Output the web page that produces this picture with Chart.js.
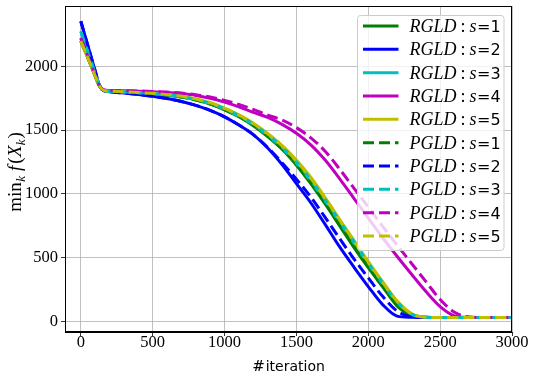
<!DOCTYPE html>
<html><head><meta charset="utf-8">
<script src="https://cdn.jsdelivr.net/npm/chart.js@4/dist/chart.umd.min.js"></script>
<style>html,body{margin:0;padding:0;background:#fff;overflow:hidden}</style>
</head><body>
<canvas id="c" width="534" height="379"></canvas>
<script>
// ---------- data ----------
const iterations = [0,50,100,130,160,200,300,400,500,600,700,800,900,1000,1100,1200,1300,1400,1500,1600,1700,1800,1900,2000,2100,2200,2300,2400,2500,2600,2700,2800,2900,3000];
const rgld_s1 = [2200,2065,1925,1845,1812,1806,1800,1793,1786,1775,1760,1737,1705,1660,1605,1535,1450,1350,1225,1080,920,750,580,420,270,120,45,30,28,28,28,28,28,28];
const rgld_s2 = [2355,2160,1965,1850,1810,1802,1792,1780,1766,1748,1725,1695,1655,1605,1540,1465,1360,1230,1080,930,760,585,425,272,130,40,30,28,28,28,28,28,28,28];
const rgld_s3 = [2277,2110,1945,1850,1813,1806,1800,1794,1787,1777,1762,1740,1708,1665,1610,1542,1458,1360,1240,1100,945,780,615,450,295,150,55,30,28,28,28,28,28,28];
const rgld_s4 = [2225,2080,1930,1850,1815,1811,1809,1806,1802,1796,1787,1773,1750,1720,1683,1640,1600,1545,1475,1385,1265,1120,965,810,655,510,370,235,115,42,30,28,28,28];
const rgld_s5 = [2200,2065,1925,1845,1812,1806,1801,1795,1789,1779,1766,1745,1715,1672,1620,1555,1475,1380,1266,1130,970,800,635,468,310,160,60,30,28,28,28,28,28,28];
const pgld_s1 = [2200,2065,1925,1845,1812,1806,1800,1793,1786,1776,1761,1739,1707,1662,1608,1540,1456,1357,1235,1092,932,763,595,435,283,130,48,30,28,28,28,28,28,28];
const pgld_s2 = [2355,2160,1965,1850,1810,1802,1792,1780,1766,1748,1725,1695,1655,1605,1540,1465,1365,1245,1115,975,815,650,490,340,195,80,35,28,28,28,28,28,28,28];
const pgld_s3 = [2275,2108,1943,1848,1812,1806,1801,1795,1788,1778,1764,1742,1711,1668,1614,1547,1465,1368,1250,1110,955,790,625,458,300,152,56,30,28,28,28,28,28,28];
const pgld_s4 = [2223,2078,1928,1848,1815,1812,1810,1808,1804,1799,1791,1779,1760,1734,1702,1663,1618,1580,1520,1440,1335,1195,1045,895,745,598,455,312,170,70,33,28,28,28];
const pgld_s5 = [2200,2065,1925,1845,1812,1806,1801,1795,1789,1779,1766,1745,1715,1671,1618,1552,1472,1376,1258,1122,963,795,630,463,305,156,58,30,28,28,28,28,28,28];
const methods = ['RGLD','PGLD'];
const sValues = [1,2,3,4,5];
const colors = ['#008000','#0000ff','#00bfbf','#bf00bf','#bfbf00'];
const xTickValues = [0,500,1000,1500,2000,2500,3000];
const yTickValues = [0,500,1000,1500,2000];

const seriesList = [rgld_s1,rgld_s2,rgld_s3,rgld_s4,rgld_s5,pgld_s1,pgld_s2,pgld_s3,pgld_s4,pgld_s5];

const datasets = seriesList.map((ys, i) => {
  const m = methods[Math.floor(i/5)], s = sValues[i%5];
  return {
    label: m + ' : s=' + s,
    method: m, sval: s,
    data: ys.map((y, k) => ({x: iterations[k], y})),
    borderColor: colors[i%5],
    backgroundColor: colors[i%5],
    borderWidth: 3,
    borderDash: i >= 5 ? [11,5] : [],
    pointRadius: 0,
    fill: false,
    cubicInterpolationMode: 'monotone',
    order: -i
  };
});

const decor = {
  id: 'decor',
  afterDatasetsDraw(chart) {
    const ctx = chart.ctx, a = chart.chartArea;
    ctx.save();
    // frame
    ctx.strokeStyle = '#000'; ctx.lineWidth = 1; ctx.setLineDash([]);
    ctx.strokeRect(Math.round(a.left)+0.5, Math.round(a.top)+0.5, Math.round(a.right-a.left)-1, Math.round(a.bottom-a.top)-1);

    // legend box
    const w = 146.5, h = 235;
    const x0 = a.right - 8 - w, y0 = a.top + 9.5;
    ctx.beginPath();
    if (ctx.roundRect) ctx.roundRect(x0, y0, w, h, 3); else ctx.rect(x0, y0, w, h);
    ctx.fillStyle = 'rgba(255,255,255,0.8)'; ctx.fill();
    ctx.strokeStyle = '#cccccc'; ctx.lineWidth = 1; ctx.stroke();
    const rowH = 23.33;
    chart.data.datasets.forEach((ds, i) => {
      const y = y0 + 10.5 + i*rowH;
      ctx.beginPath();
      ctx.setLineDash(ds.borderDash);
      ctx.strokeStyle = ds.borderColor; ctx.lineWidth = 3; ctx.lineCap = 'butt';
      ctx.moveTo(x0 + 5.5, y); ctx.lineTo(x0 + 41, y); ctx.stroke();
      ctx.setLineDash([]);
      ctx.fillStyle = '#000'; ctx.textBaseline = 'alphabetic'; ctx.textAlign = 'left';
      let tx = x0 + 52; const base = y + 6;
      ctx.font = 'italic 18px "Liberation Serif"';
      ctx.fillText(ds.method, tx, base); tx += ctx.measureText(ds.method).width + 4;
      ctx.font = '18px "Liberation Serif"';
      ctx.fillText(':', tx, base); tx += ctx.measureText(':').width + 4;
      ctx.font = 'italic 18px "Liberation Serif"';
      ctx.fillText('s', tx, base); tx += ctx.measureText('s').width + 0.5;
      ctx.font = '16px "DejaVu Sans"';
      ctx.fillText('=' + ds.sval, tx, base);
    });

    // x title
    const cx = (a.left + a.right)/2, ty = 371;
    ctx.font = '15px "DejaVu Serif"';
    const w1 = ctx.measureText('#').width;
    ctx.font = '14px "DejaVu Sans"';
    const w2 = ctx.measureText('iteration').width;
    let sx = cx - (w1 + w2 + 1)/2;
    ctx.font = '15px "DejaVu Serif"'; ctx.fillText('#', sx, ty);
    ctx.font = '14px "DejaVu Sans"'; ctx.fillText('iteration', sx + w1 + 1, ty);

    // y title
    ctx.translate(21, (a.top + a.bottom)/2 + 3);
    ctx.rotate(-Math.PI/2);
    const parts = [
      ['min', '19px "Liberation Serif"', 0, 0.5],
      ['k', 'italic 13px "Liberation Serif"', 4, 5],
      ['f', 'italic 19px "Liberation Serif"', 0, 2],
      ['(', '19px "Liberation Serif"', 0, 0.5],
      ['X', 'italic 19px "Liberation Serif"', 0, 0],
      ['k', 'italic 13px "Liberation Serif"', 4, 1],
      [')', '19px "Liberation Serif"', 0, 0]
    ];
    let tot = 0;
    parts.forEach(p => { ctx.font = p[1]; tot += ctx.measureText(p[0]).width + p[3]; });
    let px = -tot/2;
    parts.forEach(p => { ctx.font = p[1]; ctx.fillText(p[0], px, p[2]); px += ctx.measureText(p[0]).width + p[3]; });
    ctx.restore();
  }
};

const tickFont = {family: 'Liberation Serif', size: 16.5};
new Chart(document.getElementById('c'), {
  type: 'line',
  data: { datasets },
  options: {
    responsive: false, animation: false, devicePixelRatio: 1,
    layout: { padding: { left: 0, right: 22, top: 6, bottom: 0 } },
    plugins: { legend: { display: false }, tooltip: { enabled: false } },
    scales: {
      x: {
        type: 'linear', min: -110, max: 3000,
        afterBuildTicks: ax => { ax.ticks = xTickValues.map(v => ({value: v})); },
        afterFit: s => { s.height = 47; s.paddingLeft = 0; s.paddingRight = 0; },
        ticks: { font: tickFont, color: '#000', padding: -3, maxRotation: 0, autoSkip: false, callback: v => String(v) },
        grid: { color: '#b0b0b0', lineWidth: 0.8, tickColor: '#000', tickLength: 4 },
        border: { display: true, color: '#000', width: 1 }
      },
      y: {
        type: 'linear', min: -85, max: 2475,
        afterBuildTicks: ax => { ax.ticks = yTickValues.map(v => ({value: v})); },
        afterFit: s => { s.width = 65; s.paddingTop = 0; s.paddingBottom = 0; },
        ticks: { font: tickFont, color: '#000', padding: 3, autoSkip: false, callback: v => String(v) },
        grid: { color: '#b0b0b0', lineWidth: 0.8, tickColor: '#000', tickLength: 4 },
        border: { display: true, color: '#000', width: 1 }
      }
    }
  },
  plugins: [decor]
});
</script>
</body></html>
